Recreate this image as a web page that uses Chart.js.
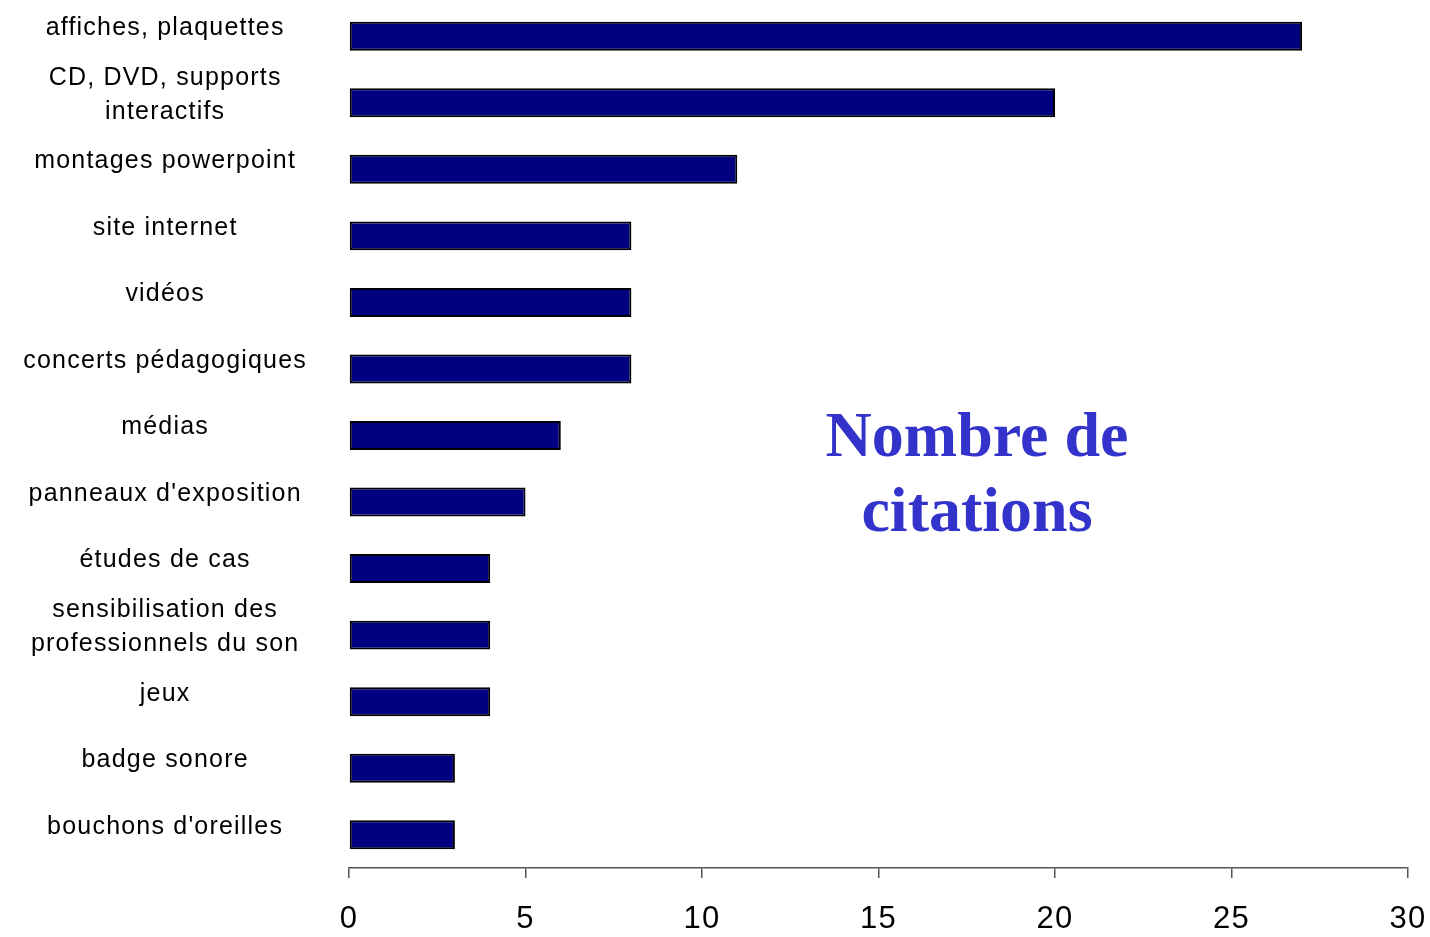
<!DOCTYPE html>
<html>
<head>
<meta charset="utf-8">
<script src="https://cdn.jsdelivr.net/npm/chart.js@4/dist/chart.umd.min.js"></script>
<style>
  html, body { margin: 0; padding: 0; background: #fff; }
  #wrap { width: 1430px; height: 937px; position: relative; }
</style>
</head>
<body>
<div id="wrap"><canvas id="citationsChart"></canvas></div>
<script>
// categories (top to bottom) and number of citations
const categories = [
  "affiches, plaquettes",
  ["CD, DVD, supports", "interactifs"],
  "montages powerpoint",
  "site internet",
  "vidéos",
  "concerts pédagogiques",
  "médias",
  "panneaux d'exposition",
  "études de cas",
  ["sensibilisation des", "professionnels du son"],
  "jeux",
  "badge sonore",
  "bouchons d'oreilles"
];
const citations = [27, 20, 11, 8, 8, 8, 6, 5, 4, 4, 4, 3, 3];
const xTicks = [0, 5, 10, 15, 20, 25, 30];
const titleLines = ["Nombre de", "citations"];

// old excel-ish text is a bit spaced out
const spacingPlugin = {
  id: "spacing",
  beforeUpdate(chart) { chart.ctx.letterSpacing = "1.2px"; },
  beforeDraw(chart) { chart.ctx.letterSpacing = "1.2px"; }
};

// title drawn inside the plot, like the original
const titlePlugin = {
  id: "innerTitle",
  afterDraw(chart) {
    const ctx = chart.ctx;
    ctx.save();
    ctx.letterSpacing = "0px";
    ctx.fillStyle = "#3333cc";
    ctx.font = "bold 64px 'Liberation Serif', 'DejaVu Serif', serif";
    ctx.textAlign = "center";
    ctx.textBaseline = "alphabetic";
    ctx.fillText(titleLines[0], 977, 456);
    ctx.fillText(titleLines[1], 977, 531);
    ctx.restore();
  }
};

const ctx = document.getElementById("citationsChart").getContext("2d");

new Chart(ctx, {
  type: "bar",
  data: {
    labels: categories,
    datasets: [{
      data: citations,
      backgroundColor: "#000080",
      borderColor: "#000000",
      borderWidth: 2,
      borderSkipped: false,
      categoryPercentage: 1,
      barPercentage: 0.435
    }]
  },
  options: {
    indexAxis: "y",
    responsive: true,
    maintainAspectRatio: false,
    animation: false,
    layout: { padding: { top: 3, right: 22, left: 0, bottom: 0 } },
    plugins: {
      legend: { display: false },
      tooltip: { enabled: false }
    },
    scales: {
      x: {
        min: 0,
        max: 30,
        afterBuildTicks(scale) {
          scale.ticks = xTicks.map(v => ({ value: v }));
        },
        afterFit(scale) {
          scale.height = 69;
          scale.paddingLeft = 0;
          scale.paddingRight = 0;
        },
        grid: {
          display: true,
          drawOnChartArea: false,
          drawTicks: true,
          tickLength: 10,
          color: "#555555",
          lineWidth: 1.5
        },
        border: { display: true, color: "#555555", width: 1.5 },
        ticks: {
          color: "#000",
          padding: 23,
          maxRotation: 0,
          font: { family: "'Liberation Sans', Arial, sans-serif", size: 31 }
        }
      },
      y: {
        afterFit(scale) {
          scale.width = 349;
          scale.paddingTop = 0;
          scale.paddingBottom = 0;
        },
        grid: { display: false, drawTicks: false },
        border: { display: false },
        ticks: {
          color: "#000",
          crossAlign: "center",
          padding: 42,
          labelOffset: -8,
          autoSkip: false,
          font: { family: "'Liberation Sans', Arial, sans-serif", size: 25, lineHeight: 1.36 }
        }
      }
    }
  },
  plugins: [spacingPlugin, titlePlugin]
});
</script>
</body>
</html>
